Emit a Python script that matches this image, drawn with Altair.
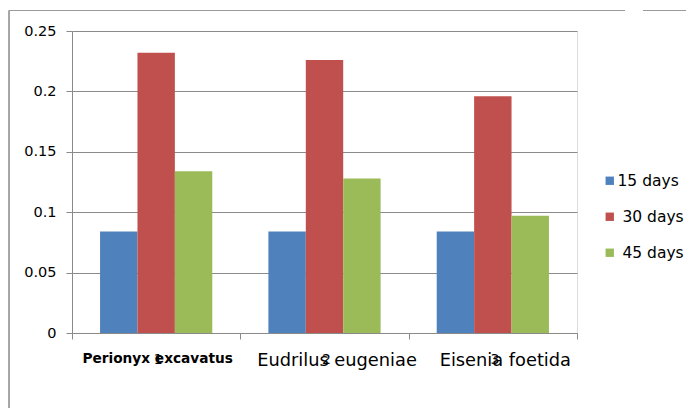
import altair as alt
import pandas as pd

species = ["Perionyx excavatus", "Eudrilus eugeniae", "Eisenia foetida"]
numbers = ["1", "2", "3"]
periods = ["15 days", "\u200b\u00a030 days", "\u200b\u00a045 days"]
d15 = [0.084, 0.084, 0.084]
d30 = [0.232, 0.226, 0.196]
d45 = [0.134, 0.128, 0.097]
colors = ["#4F81BD", "#C0504D", "#9BBB59"]

rows = []
for i, s in enumerate(species):
    for p, vals in zip(periods, [d15, d30, d45]):
        rows.append({"species": s, "period": p, "value": vals[i]})
df = pd.DataFrame(rows)
nums = pd.DataFrame({"species": species, "num": numbers})

FONT = "DejaVu Sans"
GRID = "#8a8a8a"
FIRST = "datum.value == 'Perionyx excavatus'"

x_enc = alt.X(
    "species:N", sort=species, title=None,
    scale=alt.Scale(paddingInner=0, paddingOuter=0),
    axis=alt.Axis(
        labelAngle=0, tickBand="extent", grid=False,
        domainColor=GRID, tickColor=GRID, tickSize=6,
        labelColor="#000000", labelFont=FONT, labelPadding=12,
        labelFontSize=alt.condition(FIRST, alt.value(13.7), alt.value(17.8)),
        labelFontWeight=alt.condition(FIRST, alt.value("bold"), alt.value("normal")),
        labelOffset=alt.condition(FIRST, alt.value(1), alt.value(12)),
    ),
)

bars = alt.Chart(df).mark_bar().encode(
    x=x_enc,
    xOffset=alt.XOffset("period:N", sort=periods,
                        scale=alt.Scale(paddingOuter=0.75, paddingInner=0)),
    y=alt.Y("value:Q", title=None,
            scale=alt.Scale(domain=[0, 0.25], nice=False),
            axis=alt.Axis(values=[0, 0.05, 0.1, 0.15, 0.2, 0.25], format=".2~f",
                          gridColor=GRID, domainColor=GRID, tickColor=GRID,
                          tickSize=6, labelPadding=10, labelFont=FONT,
                          labelFontSize=14.5, labelColor="#000000")),
    color=alt.Color("period:N", sort=periods,
                    scale=alt.Scale(domain=periods, range=colors),
                    legend=alt.Legend(title=None, orient="none", legendX=530, legendY=142,
                                      symbolType="square", symbolSize=70,
                                      symbolStrokeWidth=0, labelFont=FONT,
                                      labelFontSize=15.5, labelColor="#000000",
                                      rowPadding=19, labelOffset=0)),
)

digits = alt.Chart(nums).mark_text(font=FONT, fontSize=14, color="#000000",
                                   baseline="alphabetic", dx=2).encode(
    x=alt.X("species:N", sort=species),
    y=alt.value(333),
    text="num:N",
)

frame_left = alt.Chart(nums).mark_rule(color="#9a9a9a", strokeWidth=1).encode(
    x=alt.value(-63), y=alt.value(-20.5), y2=alt.value(390))
frame_top1 = alt.Chart(nums).mark_rule(color="#9a9a9a", strokeWidth=1).encode(
    x=alt.value(-63), x2=alt.value(553), y=alt.value(-20.5))
frame_top2 = alt.Chart(nums).mark_rule(color="#9a9a9a", strokeWidth=1).encode(
    x=alt.value(571), x2=alt.value(630), y=alt.value(-20.5))

chart = alt.layer(bars, digits, frame_left, frame_top1, frame_top2).properties(
    width=505, height=302,
    autosize=alt.AutoSizeParams(type="none"),
    padding={"left": 64, "top": 23, "right": 109, "bottom": 75},
).configure_view(stroke=None).configure(background="#ffffff")

chart.save("out.html", embed_options={"renderer": "svg", "actions": False})
